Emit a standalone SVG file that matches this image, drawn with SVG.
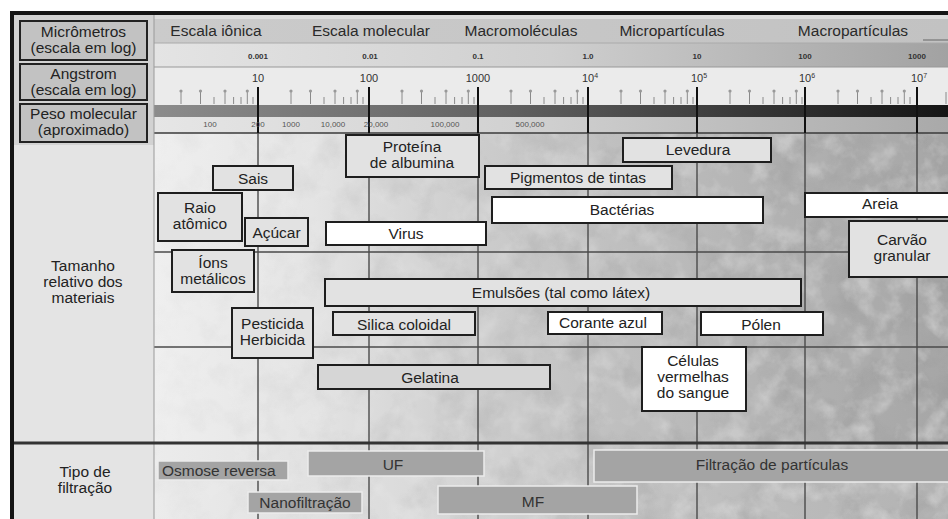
<svg xmlns="http://www.w3.org/2000/svg" xmlns:xlink="http://www.w3.org/1999/xlink" width="948" height="519" viewBox="0 0 948 519">
<style>
text{font-family:"Liberation Sans",Arial,sans-serif;fill:#222;}
.lbl{font-size:15.5px;text-anchor:middle;}
.hdr{font-size:15.5px;text-anchor:middle;fill:#2a2a2a;}
.um{font-size:8px;font-weight:bold;text-anchor:middle;fill:#333;}
.ang{font-size:11px;text-anchor:middle;fill:#333;}
.pm{font-size:8px;text-anchor:middle;fill:#555;}
.box{stroke:#1e1e1e;stroke-width:2;}
.lt{fill:#e2e2e2;}
.wh{fill:#ffffff;}
.flt{fill:#a4a4a4;stroke:#ececec;stroke-width:1.5;}
.hbox{fill:#c2c2c2;stroke:#222;stroke-width:2;}
.maj{stroke:#111;stroke-width:2;}
.grid{stroke:#4a4a4a;stroke-width:1.4;fill:none;}
.tk{stroke:#8a8a8a;stroke-width:1;}
</style>
<defs>
<linearGradient id="mainBg" x1="154" y1="0" x2="948" y2="0" gradientUnits="userSpaceOnUse">
<stop offset="0" stop-color="#efefef"/><stop offset="0.2" stop-color="#e4e4e4"/><stop offset="0.4" stop-color="#cdcdcd"/><stop offset="0.6" stop-color="#bebebe"/><stop offset="0.8" stop-color="#b1b1b1"/><stop offset="1" stop-color="#a6a6a6"/>
</linearGradient>
<linearGradient id="filtBg" x1="154" y1="0" x2="948" y2="0" gradientUnits="userSpaceOnUse">
<stop offset="0" stop-color="#ececec"/><stop offset="0.3" stop-color="#dcdcdc"/><stop offset="0.6" stop-color="#c4c4c4"/><stop offset="1" stop-color="#b2b2b2"/>
</linearGradient>
<linearGradient id="hdrBg" x1="154" y1="0" x2="948" y2="0" gradientUnits="userSpaceOnUse">
<stop offset="0" stop-color="#cbcbcb"/><stop offset="1" stop-color="#c2c2c2"/>
</linearGradient>
<linearGradient id="umBg" x1="154" y1="0" x2="948" y2="0" gradientUnits="userSpaceOnUse">
<stop offset="0" stop-color="#e4e4e4"/><stop offset="0.5" stop-color="#cfcfcf"/><stop offset="1" stop-color="#a2a2a2"/>
</linearGradient>
<linearGradient id="bandBg" x1="154" y1="0" x2="948" y2="0" gradientUnits="userSpaceOnUse">
<stop offset="0" stop-color="#8c8c8c"/><stop offset="0.45" stop-color="#606060"/><stop offset="1" stop-color="#151515"/>
</linearGradient>
<linearGradient id="pmBg" x1="154" y1="0" x2="948" y2="0" gradientUnits="userSpaceOnUse">
<stop offset="0" stop-color="#e6e6e6"/><stop offset="0.5" stop-color="#cfcfcf"/><stop offset="1" stop-color="#a9a9a9"/>
</linearGradient>
<linearGradient id="maskGrad" x1="154" y1="0" x2="948" y2="0" gradientUnits="userSpaceOnUse">
<stop offset="0" stop-color="#222"/><stop offset="0.4" stop-color="#888"/><stop offset="1" stop-color="#fff"/>
</linearGradient>
<mask id="fade"><rect x="154" y="133" width="794" height="386" fill="url(#maskGrad)"/></mask>
<filter id="mottleDark" x="154" y="133" width="794" height="386" filterUnits="userSpaceOnUse">
<feTurbulence type="fractalNoise" baseFrequency="0.03" numOctaves="4" seed="7"/>
<feColorMatrix type="matrix" values="0 0 0 0 0.3  0 0 0 0 0.3  0 0 0 0 0.3  2.6 0 0 0 -1.15"/>
</filter>
<filter id="mottleLight" x="154" y="133" width="794" height="386" filterUnits="userSpaceOnUse">
<feTurbulence type="fractalNoise" baseFrequency="0.04" numOctaves="4" seed="21"/>
<feColorMatrix type="matrix" values="0 0 0 0 1  0 0 0 0 1  0 0 0 0 1  2.6 0 0 0 -1.2"/>
</filter>
<g id="decade">
<line class="tk" x1="33" y1="92" x2="33" y2="104"/><circle cx="33" cy="91" r="1.6" fill="#999"/>
<line class="tk" x1="52.5" y1="92" x2="52.5" y2="104"/><circle cx="52.5" cy="91" r="1.6" fill="#999"/>
<line class="tk" x1="77" y1="92" x2="77" y2="104"/><circle cx="77" cy="91" r="1.6" fill="#999"/>
<line class="tk" x1="99.3" y1="92" x2="99.3" y2="104"/><circle cx="99.3" cy="91" r="1.6" fill="#999"/>
<line class="tk" x1="66" y1="97" x2="66" y2="104"/>
<line class="tk" x1="85.6" y1="97" x2="85.6" y2="104"/>
<line class="tk" x1="93" y1="97" x2="93" y2="104"/>
<line class="tk" x1="105" y1="97" x2="105" y2="104"/>
</g>
</defs>

<!-- page background -->
<rect x="0" y="0" width="948" height="519" fill="#ffffff"/>

<!-- left column -->
<rect x="14" y="15" width="140" height="504" fill="#e4e4e4"/>
<rect x="14" y="15" width="140" height="130" fill="#d2d2d2"/>

<!-- scale band -->
<rect x="154" y="15" width="794" height="28" fill="url(#hdrBg)"/>
<rect x="154" y="15" width="794" height="4" fill="#dcdcdc"/>
<line x1="923" y1="40" x2="948" y2="40" stroke="#666" stroke-width="1"/>
<rect x="154" y="43" width="794" height="24" fill="url(#umBg)"/>
<line x1="154" y1="43" x2="948" y2="43" stroke="#aaa" stroke-width="1"/>
<rect x="154" y="67" width="794" height="38" fill="#ebebeb"/>
<line x1="154" y1="67" x2="948" y2="67" stroke="#999" stroke-width="1"/>
<rect x="154" y="105" width="794" height="12" fill="url(#bandBg)"/>
<rect x="154" y="117" width="794" height="16" fill="url(#pmBg)"/>

<!-- main + filtration background -->
<rect x="154" y="133" width="794" height="310" fill="url(#mainBg)"/>
<rect x="154" y="443" width="794" height="76" fill="url(#filtBg)"/>
<g mask="url(#fade)">
<rect x="154" y="133" width="794" height="386" filter="url(#mottleDark)" opacity="0.4"/>
<rect x="154" y="133" width="794" height="386" filter="url(#mottleLight)" opacity="0.35"/>
</g>

<!-- minor ticks -->
<g id="ticks">
<use xlink:href="#decade" x="148"/>
<use xlink:href="#decade" x="258"/>
<use xlink:href="#decade" x="369"/>
<use xlink:href="#decade" x="478"/>
<use xlink:href="#decade" x="588"/>
<use xlink:href="#decade" x="697"/>
<use xlink:href="#decade" x="805"/>
<line class="tk" x1="946" y1="92" x2="946" y2="104"/>
</g>

<!-- grid -->
<g id="grid">
<line x1="154" y1="133" x2="948" y2="133" stroke="#3a3a3a" stroke-width="1.6"/>
<line class="grid" x1="154" y1="252" x2="948" y2="252"/>
<line class="grid" x1="154" y1="347" x2="948" y2="347"/>
<line class="maj" x1="258" y1="87" x2="258" y2="133"/>
<line class="maj" x1="369" y1="87" x2="369" y2="133"/>
<line class="maj" x1="478" y1="87" x2="478" y2="133"/>
<line class="maj" x1="588" y1="87" x2="588" y2="133"/>
<line class="maj" x1="697" y1="87" x2="697" y2="133"/>
<line class="maj" x1="805" y1="87" x2="805" y2="133"/>
<line class="maj" x1="917" y1="87" x2="917" y2="133"/>
<line class="grid" x1="258" y1="133" x2="258" y2="519"/>
<line class="grid" x1="369" y1="133" x2="369" y2="519"/>
<line class="grid" x1="478" y1="133" x2="478" y2="519"/>
<line class="grid" x1="588" y1="133" x2="588" y2="519"/>
<line class="grid" x1="697" y1="133" x2="697" y2="519"/>
<line class="grid" x1="805" y1="133" x2="805" y2="519"/>
<line class="grid" x1="917" y1="133" x2="917" y2="519"/>
<line x1="154" y1="15" x2="154" y2="519" stroke="#9a9a9a" stroke-width="1"/>
<line x1="12" y1="443" x2="948" y2="443" stroke="#333" stroke-width="3"/>
</g>

<!-- frame -->
<rect x="10" y="11" width="938" height="4" fill="#151515"/>
<rect x="10" y="11" width="4" height="508" fill="#151515"/>

<!-- scale labels -->
<g id="scale-text">
<text class="hdr" x="216" y="36">Escala iônica</text>
<text class="hdr" x="371" y="36">Escala molecular</text>
<text class="hdr" x="521" y="36">Macromoléculas</text>
<text class="hdr" x="672" y="36">Micropartículas</text>
<text class="hdr" x="853" y="36">Macropartículas</text>
<text class="um" x="258" y="59">0.001</text>
<text class="um" x="370" y="59">0.01</text>
<text class="um" x="478" y="59">0.1</text>
<text class="um" x="588" y="59">1.0</text>
<text class="um" x="697" y="59">10</text>
<text class="um" x="805" y="59">100</text>
<text class="um" x="917" y="59">1000</text>
<text class="ang" x="258" y="82">10</text>
<text class="ang" x="369" y="82">100</text>
<text class="ang" x="478" y="82">1000</text>
<text class="ang" x="590" y="82">10<tspan font-size="7" dy="-4">4</tspan></text>
<text class="ang" x="699" y="82">10<tspan font-size="7" dy="-4">5</tspan></text>
<text class="ang" x="807" y="82">10<tspan font-size="7" dy="-4">6</tspan></text>
<text class="ang" x="919" y="82">10<tspan font-size="7" dy="-4">7</tspan></text>
<text class="pm" x="210" y="127">100</text>
<text class="pm" x="258" y="127">200</text>
<text class="pm" x="291" y="127">1000</text>
<text class="pm" x="333" y="127">10,000</text>
<text class="pm" x="376" y="127">20,000</text>
<text class="pm" x="445" y="127">100,000</text>
<text class="pm" x="530" y="127">500,000</text>
</g>

<!-- left column headers -->
<g id="h-micrometros"><rect class="hbox" x="20" y="21" width="127" height="39"/><text class="lbl" x="83.5" y="37">Micrômetros</text><text class="lbl" x="83.5" y="53">(escala em log)</text></g>
<g id="h-angstrom"><rect class="hbox" x="20" y="64" width="127" height="36"/><text class="lbl" x="83.5" y="79">Angstrom</text><text class="lbl" x="83.5" y="95">(escala em log)</text></g>
<g id="h-peso"><rect class="hbox" x="20" y="104" width="127" height="38"/><text class="lbl" x="83.5" y="119">Peso molecular</text><text class="lbl" x="83.5" y="135">(aproximado)</text></g>
<g id="h-tamanho"><text class="lbl" x="83" y="271">Tamanho</text><text class="lbl" x="83" y="287">relativo dos</text><text class="lbl" x="83" y="303">materiais</text></g>
<g id="h-tipo"><text class="lbl" x="85" y="477">Tipo de</text><text class="lbl" x="85" y="493">filtração</text></g>

<!-- material boxes -->
<g id="n-proteina"><rect class="box lt" x="346" y="135" width="133" height="42"/><text class="lbl" x="412" y="152">Proteína</text><text class="lbl" x="412" y="168">de albumina</text></g>
<g id="n-sais"><rect class="box lt" x="213" y="166" width="80" height="24"/><text class="lbl" x="253" y="184">Sais</text></g>
<g id="n-raio"><rect class="box lt" x="158" y="193" width="84" height="48"/><text class="lbl" x="200" y="213">Raio</text><text class="lbl" x="200" y="229">atômico</text></g>
<g id="n-acucar"><rect class="box lt" x="245" y="218" width="63" height="28"/><text class="lbl" x="276.5" y="238">Açúcar</text></g>
<g id="n-virus"><rect class="box wh" x="326" y="222" width="160" height="23"/><text class="lbl" x="406" y="239">Virus</text></g>
<g id="n-ions"><rect class="box lt" x="172" y="250" width="82" height="42"/><text class="lbl" x="213" y="268">Íons</text><text class="lbl" x="213" y="284">metálicos</text></g>
<g id="n-emulsoes"><rect class="box lt" x="325" y="279" width="476" height="27"/><text class="lbl" x="561" y="298">Emulsões (tal como látex)</text></g>
<g id="n-pesticida"><rect class="box lt" x="232" y="308" width="81" height="50"/><text class="lbl" x="272.5" y="329">Pesticida</text><text class="lbl" x="272.5" y="345">Herbicida</text></g>
<g id="n-silica"><rect class="box lt" x="333" y="312" width="142" height="23"/><text class="lbl" x="404" y="330">Silica coloidal</text></g>
<g id="n-gelatina"><rect class="box" fill="#d6d6d6" x="318" y="365" width="232" height="24"/><text class="lbl" x="430" y="383">Gelatina</text></g>
<g id="n-levedura"><rect class="box lt" x="623" y="138" width="148" height="24"/><text class="lbl" x="698" y="155">Levedura</text></g>
<g id="n-pigmentos"><rect class="box lt" x="485" y="166" width="187" height="23"/><text class="lbl" x="578" y="183">Pigmentos de tintas</text></g>
<g id="n-bacterias"><rect class="box wh" x="492" y="197" width="271" height="26"/><text class="lbl" x="622" y="215">Bactérias</text></g>
<g id="n-areia"><rect class="box wh" x="805" y="193" width="150" height="24"/><text class="lbl" x="880" y="209">Areia</text></g>
<g id="n-carvao"><rect class="box lt" x="849" y="221" width="106" height="56"/><text class="lbl" x="902" y="245">Carvão</text><text class="lbl" x="902" y="261">granular</text></g>
<g id="n-corante"><rect class="box wh" x="548" y="312" width="114" height="22"/><text class="lbl" x="603" y="328">Corante azul</text></g>
<g id="n-polen"><rect class="box wh" x="701" y="312" width="122" height="23"/><text class="lbl" x="761" y="330">Pólen</text></g>
<g id="n-celulas"><rect class="box wh" x="642" y="347" width="104" height="64"/><text class="lbl" x="693" y="366">Células</text><text class="lbl" x="693" y="382">vermelhas</text><text class="lbl" x="693" y="398">do sangue</text></g>

<!-- filtration boxes -->
<g id="f-osmose"><rect class="flt" x="158" y="461" width="130" height="19"/><text x="162" y="476" style="font-size:15.5px;fill:#333">Osmose reversa</text></g>
<g id="f-uf"><rect class="flt" x="308" y="451" width="176" height="25"/><text class="lbl" x="393" y="470" style="fill:#333">UF</text></g>
<g id="f-nano"><rect class="flt" x="248" y="492" width="114" height="21"/><text class="lbl" x="305" y="508" style="fill:#333">Nanofiltração</text></g>
<g id="f-mf"><rect class="flt" x="438" y="486" width="199" height="28"/><text class="lbl" x="533" y="507" style="fill:#333">MF</text></g>
<g id="f-particulas"><rect class="flt" x="594" y="450" width="360" height="32"/><text class="lbl" x="772" y="470" style="fill:#333">Filtração de partículas</text></g>

<g id="connectors"/>
</svg>
